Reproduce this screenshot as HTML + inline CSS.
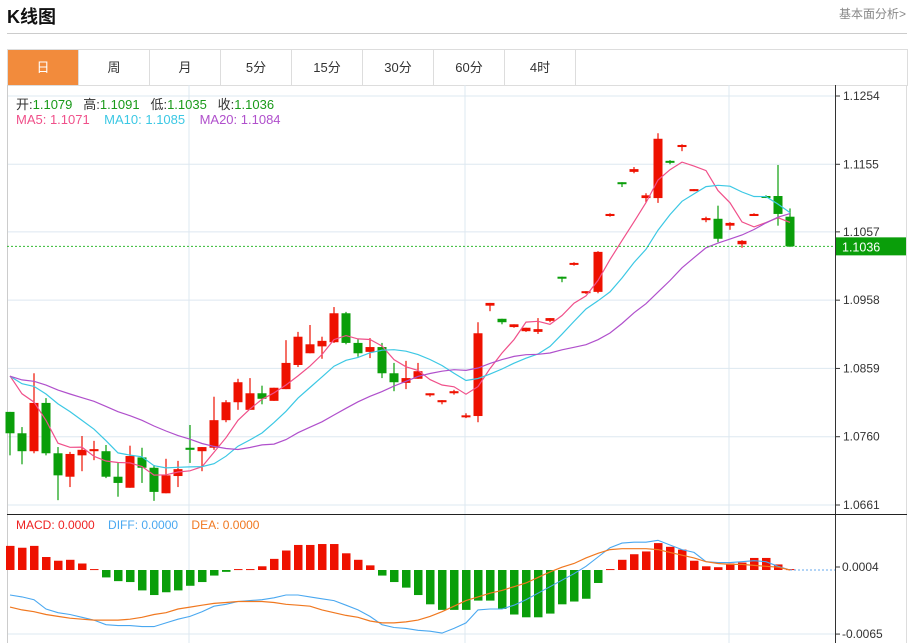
<!DOCTYPE html>
<html><head><meta charset="utf-8"><style>
body{margin:0;background:#fff;width:910px;height:643px;overflow:hidden;font-family:"Liberation Sans","Noto Sans CJK SC",sans-serif;}
.title{position:absolute;left:7px;top:3px;font-size:18px;font-weight:bold;color:#111;}
.more{position:absolute;right:4px;top:5px;font-size:12px;color:#888;}
.hr{position:absolute;left:7px;top:33px;width:900px;height:1px;background:#ccc;}
.tabs{position:absolute;left:7px;top:49px;width:899px;height:35px;border:1px solid #ddd;display:flex;}
.tab{width:70px;border-right:1px solid #ddd;text-align:center;line-height:35px;font-size:13px;color:#333;}
.tab.on{background:#f28b3c;color:#fff;}
svg{position:absolute;left:0;top:0;}
</style></head><body>
<div class="title">K线图</div>
<div class="more">基本面分析&gt;</div>
<div class="hr"></div>
<div class="tabs">
<div class="tab on">日</div>
<div class="tab">周</div>
<div class="tab">月</div>
<div class="tab">5分</div>
<div class="tab">15分</div>
<div class="tab">30分</div>
<div class="tab">60分</div>
<div class="tab">4时</div>
</div>
<svg id="chart" width="910" height="643"></svg>
<script>
const opens=[1.0796,1.0765,1.0739,1.0809,1.0736,1.0702,1.0733,1.0739,1.0739,1.0702,1.0686,1.0730,1.0715,1.0678,1.0703,1.0744,1.0739,1.0744,1.0784,1.0810,1.0799,1.0823,1.0812,1.0829,1.0864,1.0881,1.0891,1.0897,1.0939,1.0896,1.0883,1.0890,1.0852,1.0838,1.0844,1.0820,1.0810,1.0823,1.0790,1.0790,1.0950,1.0931,1.0919,1.0913,1.0912,1.0928,1.0992,1.1010,1.0970,1.0970,1.1080,1.1129,1.1144,1.1106,1.1106,1.1160,1.1180,1.1116,1.1074,1.1076,1.1066,1.1039,1.1080,1.1109,1.1109,1.1079];
const highs=[1.0796,1.0774,1.0852,1.0816,1.0745,1.0738,1.0761,1.0754,1.0748,1.0722,1.0747,1.0744,1.0719,1.0728,1.0725,1.0777,1.0745,1.0818,1.0813,1.0844,1.0845,1.0834,1.0831,1.0900,1.0912,1.0922,1.0905,1.0948,1.0941,1.0902,1.0903,1.0896,1.0867,1.0870,1.0867,1.0823,1.0813,1.0828,1.0794,1.0926,1.0954,1.0931,1.0923,1.0918,1.0932,1.0932,1.0992,1.1013,1.0971,1.1029,1.1084,1.1129,1.1151,1.1113,1.1200,1.1161,1.1184,1.1119,1.1079,1.1095,1.1071,1.1045,1.1084,1.1110,1.1154,1.1091];
const lows=[1.0733,1.0720,1.0736,1.0733,1.0668,1.0687,1.0710,1.0726,1.0700,1.0673,1.0686,1.0693,1.0667,1.0678,1.0687,1.0722,1.0710,1.0741,1.0781,1.0799,1.0799,1.0807,1.0812,1.0829,1.0861,1.0881,1.0873,1.0896,1.0894,1.0876,1.0874,1.0845,1.0826,1.0829,1.0844,1.0818,1.0807,1.0821,1.0787,1.0781,1.0942,1.0923,1.0918,1.0912,1.0909,1.0926,1.0984,1.1008,1.0967,1.0968,1.1079,1.1122,1.1142,1.1100,1.1099,1.1155,1.1174,1.1116,1.1071,1.1042,1.1060,1.1034,1.1080,1.1106,1.1066,1.1035];
const closes=[1.0765,1.0739,1.0809,1.0736,1.0704,1.0735,1.0741,1.0742,1.0702,1.0693,1.0732,1.0715,1.0680,1.0704,1.0713,1.0741,1.0745,1.0784,1.0810,1.0839,1.0823,1.0815,1.0831,1.0867,1.0905,1.0894,1.0899,1.0939,1.0896,1.0881,1.0890,1.0852,1.0839,1.0845,1.0855,1.0823,1.0813,1.0826,1.0791,1.0910,1.0954,1.0926,1.0923,1.0918,1.0916,1.0932,1.0990,1.1012,1.0971,1.1028,1.1083,1.1128,1.1148,1.1110,1.1192,1.1158,1.1183,1.1119,1.1077,1.1047,1.1070,1.1044,1.1083,1.1108,1.1083,1.1036];
const prevCloses=[1.0848,1.0848,1.0848,1.0848,1.0848,1.0848,1.0848,1.0848,1.0848,1.0848,1.0847,1.0847,1.0847,1.0847,1.0847,1.0869,1.0869,1.0869,1.0869];
const priceTicks=["1.1254","1.1155","1.1057","1.0958","1.0859","1.0760","1.0661"];
const macdBars=[26,24,26,14,10,11,7,1,-8,-12,-13,-22,-27,-24,-22,-17,-13,-6,-2,1,1,4,12,21,27,27,28,28,18,11,5,-6,-13,-19,-27,-37,-43,-43,-43,-33,-33,-42,-48,-51,-51,-47,-37,-34,-31,-14,1,11,17,20,29,25,22,10,4,3,7,8,13,13,6,1];
const diffVals=[-27,-29,-32,-42,-46,-48,-51,-54,-59,-60,-60,-61,-61,-57,-53,-50,-45,-39,-37,-34,-33,-32,-30,-27,-27,-29,-31,-33,-38,-43,-50,-59,-62,-63,-65,-66,-68,-63,-57,-43,-42,-42,-38,-32,-25,-18,-11,-4,4,14,24,29,30,30,32,27,22,19,9,8,8,9,10,9,4,0];
const deaVals=[-40,-43,-45,-48,-50,-52,-53,-54,-54,-54,-53,-51,-48,-46,-42,-40,-38,-36,-35,-34,-34,-34,-35,-37,-38,-39,-43,-46,-49,-51,-55,-57,-57,-56,-54,-50,-45,-39,-33,-29,-25,-22,-18,-14,-8,-2,3,7,13,18,22,23,23,23,22,19,16,13,9,7,6,6,5,4,3,0];
const macdTicks=["0.0004","-0.0065"];

const NS="http://www.w3.org/2000/svg";
const svg=document.getElementById('chart');
function el(t,a,p){const e=document.createElementNS(NS,t);for(const k in a)e.setAttribute(k,a[k]);(p||svg).appendChild(e);return e;}
const PMAX=1.1254,PMIN=1.0661,YT=96,YB=505;
const py=p=>YT+(PMAX-p)/(PMAX-PMIN)*(YB-YT);
const cx=i=>10+12*i;
const MZ=570,MS=0.9275;
const my=v=>MZ-v*MS;
const RED="#ee1100",GRN="#0a9e0a";

const g=el('g',{});


priceTicks.forEach(t=>{const y=py(+t);
 const l=el('line',{x1:7,x2:835,y1:y,y2:y,stroke:'#dde8f0'},g);
 
 el('line',{x1:835,x2:840,y1:y,y2:y,stroke:'#333'},g);
 const tx=el('text',{x:843,y:y+4,'font-size':12,fill:'#333'},g);tx.textContent=t;
 
});
[189,465,729].forEach(x=>{el('line',{x1:x,x2:x,y1:85,y2:514,stroke:'#dde8f0'},g);el('line',{x1:x,x2:x,y1:514,y2:643,stroke:'#dde8f0'},g);});
el('line',{x1:7,x2:835,y1:634,y2:634,stroke:'#dde8f0'},g);
el('line',{x1:7.5,x2:7.5,y1:85,y2:643,stroke:'#ccc'});
el('line',{x1:906.5,x2:906.5,y1:85,y2:643,stroke:'#ddd'});
el('line',{x1:835.5,x2:835.5,y1:85,y2:643,stroke:'#333'});
el('line',{x1:7,x2:907,y1:514.5,y2:514.5,stroke:'#222'});

closes.forEach((c,i)=>{const o=opens[i],up=c>=o,col=up?RED:GRN,x=cx(i);
 const cg=el('g',{});
 
 
 el('line',{x1:x,x2:x,y1:py(highs[i]),y2:py(lows[i]),stroke:col,'stroke-width':1.2},cg);
 const t=py(Math.max(o,c)),b=py(Math.min(o,c));
 el('rect',{x:x-4.5,y:t,width:9,height:Math.max(2,b-t),fill:col},cg);
});
const all=prevCloses.concat(closes);const off=prevCloses.length;
function ma(n){return closes.map((_,i)=>{let s=0,k=0;for(let j=i+off;j>i+off-n&&j>=0;j--){s+=all[j];k++;}return s/k;});}
[[5,'#f0508a','ma5-line'],[10,'#3cc8e4','ma10-line'],[20,'#b050cc','ma20-line']].forEach(([n,col,name])=>{
 const pts=ma(n).map((v,i)=>cx(i)+','+py(v).toFixed(1)).join(' ');
 const pl=el('polyline',{points:pts,fill:'none',stroke:col,'stroke-width':1.2});
 
});
const last=closes[closes.length-1],ly=py(last);
el('line',{x1:7,x2:835,y1:ly,y2:ly,stroke:'#33bb33','stroke-dasharray':'2,2'});
const lr=el('rect',{x:836,y:ly-9,width:70,height:18,fill:GRN});

const lt=el('text',{x:842,y:ly+5,'font-size':12.5,fill:'#fff'});lt.textContent=last.toFixed(4);

macdBars.forEach((v,i)=>{const x=cx(i),y0=MZ,y1=my(v);
 const r=el('rect',{x:x-4,y:Math.min(y0,y1),width:8.5,height:Math.max(1,Math.abs(y1-y0)),fill:v>=0?RED:GRN});
 
});
el('line',{x1:cx(macdBars.length-1),x2:835,y1:MZ,y2:MZ,stroke:'#66aaee','stroke-dasharray':'2,2'});
const dl=el('polyline',{points:diffVals.map((v,i)=>cx(i)+','+my(v).toFixed(1)).join(' '),fill:'none',stroke:'#4aa8f0','stroke-width':1.1});

const el2=el('polyline',{points:deaVals.map((v,i)=>cx(i)+','+my(v).toFixed(1)).join(' '),fill:'none',stroke:'#f07820','stroke-width':1.2});

macdTicks.forEach((t,k)=>{const y=k===0?MZ-3:my(-68)+1;
 el('line',{x1:835,x2:840,y1:y,y2:y,stroke:'#333'});
 const tx=el('text',{x:842,y:y+4,'font-size':12,fill:'#333'});tx.textContent=t;
 
});
</script>
<div style="position:absolute;left:16px;top:94px;font-size:13px;color:#333;white-space:nowrap">开:<span style="color:#1a9a1a">1.1079</span>&nbsp;&nbsp; 高:<span style="color:#1a9a1a">1.1091</span>&nbsp;&nbsp; 低:<span style="color:#1a9a1a">1.1035</span>&nbsp;&nbsp; 收:<span style="color:#1a9a1a">1.1036</span></div>
<div style="position:absolute;left:16px;top:112px;font-size:13px;white-space:nowrap"><span style="color:#f0508a">MA5: 1.1071</span>&nbsp;&nbsp;&nbsp; <span style="color:#3cc8e4">MA10: 1.1085</span>&nbsp;&nbsp;&nbsp; <span style="color:#b050cc">MA20: 1.1084</span></div>
<div style="position:absolute;left:16px;top:518px;font-size:12px;white-space:nowrap"><span style="color:#ee2222">MACD: 0.0000</span>&nbsp;&nbsp;&nbsp; <span style="color:#4aa8f0">DIFF: 0.0000</span>&nbsp;&nbsp;&nbsp; <span style="color:#f07820">DEA: 0.0000</span></div>
</body></html>
